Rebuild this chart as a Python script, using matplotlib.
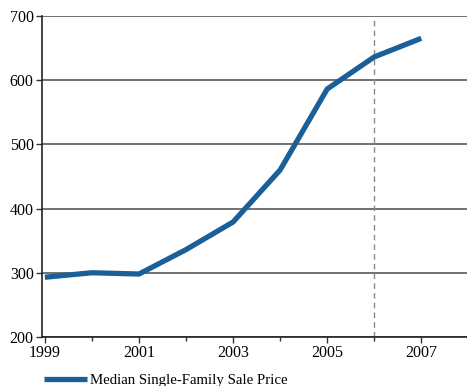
import matplotlib.pyplot as plt
from matplotlib.ticker import MultipleLocator

years = [1999, 2000, 2001, 2002, 2003, 2004, 2005, 2006, 2007]
price = [293, 300, 298, 336, 379, 460, 586, 636, 665]
marker_year = 2006
series_label = 'Median Single-Family Sale Price'

plt.rcParams['font.family'] = ['Liberation Serif', 'DejaVu Serif']

fig = plt.figure(figsize=(4.67, 3.86), dpi=100)
ax = fig.add_axes([0.09, 0.127, 0.93, 0.832])

ax.plot(years, price, color='#1b5f98', linewidth=3.8, solid_capstyle='butt',
        label=series_label, zorder=3)
ax.axvline(marker_year, color='#8a8a8a', linestyle=(0, (4, 3)), linewidth=1.0, zorder=2)

ax.set_ylim(200, 700)
ax.set_xlim(1998.94, 2008.17)
ax.yaxis.set_major_locator(MultipleLocator(100))
ax.xaxis.set_minor_locator(MultipleLocator(1))
ax.set_xticks([1999, 2001, 2003, 2005, 2007])
ax.grid(axis='y', color='#4a4a4a', linewidth=1.1)
ax.set_axisbelow(True)

for s in ['top', 'right']:
    ax.spines[s].set_visible(False)
for s in ['left', 'bottom']:
    ax.spines[s].set_color('#222222')
    ax.spines[s].set_linewidth(1.2)

ax.tick_params(axis='both', labelsize=11.5, length=4, width=1, color='#333333', pad=2)
ax.tick_params(axis='x', which='minor', length=3, width=1, color='#333333')

ax.legend(loc='upper left', bbox_to_anchor=(-0.01, -0.095), frameon=False,
          fontsize=10.7, handlelength=2.9, handletextpad=0.25, borderaxespad=0)

fig.savefig('out.png', dpi=100)
